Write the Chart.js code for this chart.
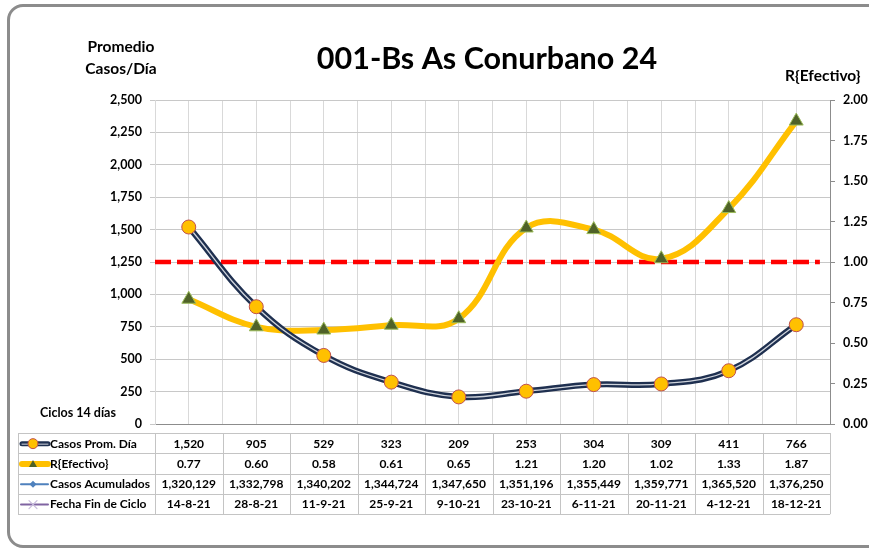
<!DOCTYPE html>
<html>
<head>
<meta charset="utf-8">
<script src="https://cdn.jsdelivr.net/npm/chart.js@4/dist/chart.umd.min.js"></script>
<style>
  html, body { margin:0; padding:0; background:#fff; }
  #wrap { position:relative; width:869px; height:550px; overflow:hidden; }
  #marco { position:absolute; left:7px; top:4px; width:890px; height:538px;
           border:3px solid #8c8c8c; border-radius:16px; pointer-events:none; }
</style>
</head>
<body>
<div id="wrap">
  <canvas id="grafico" width="869" height="550"></canvas>
  <div id="marco"></div>
</div>
<script>
//----- datos del grafico -----//
const titulo       = '001-Bs As Conurbano 24';
const ciclos       = ['1','2','3','4','5','6','7','8','9','10'];
const casosProm    = [1520, 905, 529, 323, 209, 253, 304, 309, 411, 766];
const rEfectivo    = [0.77, 0.60, 0.58, 0.61, 0.65, 1.21, 1.20, 1.02, 1.33, 1.87];
const casosAcum    = [1320129, 1332798, 1340202, 1344724, 1347650, 1351196, 1355449, 1359771, 1365520, 1376250];
const fechaFin     = ['14-8-21','28-8-21','11-9-21','25-9-21','9-10-21','23-10-21','6-11-21','20-11-21','4-12-21','18-12-21'];
const rUmbral      = 1.0;
const nombresSerie = ['Casos Prom. Día', 'R{Efectivo}', 'Casos Acumulados', 'Fecha Fin de Ciclo'];

const fuente = 'Lato, "Open Sans", sans-serif';

//----- formato de numeros -----//
function miles(v){ return Number(v).toLocaleString('en-US'); }

//----- textos y tabla de datos (dibujados debajo del grafico) -----//
const tablaPlugin = {
  id: 'tablaDatos',
  afterDraw(chart){
    const ctx = chart.ctx;
    const xs  = chart.scales.x;
    const area = chart.chartArea;
    const colW = (area.right - area.left) / ciclos.length;
    const top  = area.bottom + 9;
    const rowH = 20.3;
    const left = 18;
    ctx.save();

    // titulos
    ctx.fillStyle = '#000';
    ctx.textBaseline = 'middle';
    ctx.textAlign = 'center';
    ctx.font = 'bold 30.5px ' + fuente;
    ctx.fillText(titulo, 487, 59);
    ctx.font = 'bold 15.5px ' + fuente;
    ctx.fillText('Promedio', 121, 47);
    ctx.fillText('Casos/Día', 121, 69);
    ctx.textAlign = 'left';
    ctx.fillText('R{Efectivo}', 785, 76);
    ctx.font = 'bold 12.5px ' + fuente;
    ctx.fillText('Ciclos 14 días', 40, 413);

    // lineas de la tabla
    ctx.strokeStyle = '#c4c4c4';
    ctx.lineWidth = 1;
    const bottom = top + rowH * 4;
    for(let r=0;r<=4;r++){
      const y = Math.round(top + r*rowH) + 0.5;
      ctx.beginPath(); ctx.moveTo(left, y); ctx.lineTo(area.right, y); ctx.stroke();
    }
    ctx.beginPath(); ctx.moveTo(left+0.5, top); ctx.lineTo(left+0.5, bottom); ctx.stroke();
    for(let i=0;i<=ciclos.length;i++){
      const x = Math.round(area.left + i*colW) + 0.5;
      ctx.beginPath(); ctx.moveTo(x, top); ctx.lineTo(x, bottom); ctx.stroke();
    }

    // filas
    const filas = [
      casosProm.map(miles),
      rEfectivo.map(v => v.toFixed(2)),
      casosAcum.map(miles),
      fechaFin
    ];
    ctx.font = 'bold 12px ' + fuente;
    ctx.fillStyle = '#000';
    for(let r=0;r<4;r++){
      const yc = top + r*rowH + rowH/2 + 0.5;
      ctx.textAlign = 'center';
      for(let i=0;i<ciclos.length;i++){
        ctx.fillText(filas[r][i], xs.getPixelForValue(i), yc);
      }
      ctx.textAlign = 'left';
      ctx.fillText(nombresSerie[r], 50, yc);
      dibujarClave(ctx, r, 20, 48, yc);
    }
    ctx.restore();
  }
};

//-- pequeñas claves de la leyenda dentro de la tabla --//
function dibujarClave(ctx, r, x0, x1, y){
  const xm = (x0 + x1) / 2 - 1;
  ctx.save();
  ctx.lineCap = 'round';
  if(r==0){
    ctx.strokeStyle = '#1f3050'; ctx.lineWidth = 5;
    ctx.beginPath(); ctx.moveTo(x0+2, y); ctx.lineTo(x1, y); ctx.stroke();
    ctx.strokeStyle = '#d2d6de'; ctx.lineWidth = 1;
    ctx.beginPath(); ctx.moveTo(x0+2, y+0.5); ctx.lineTo(x1, y+0.5); ctx.stroke();
    ctx.fillStyle = '#ffc000'; ctx.strokeStyle = '#c0504d';
    ctx.beginPath(); ctx.arc(xm, y, 5, 0, Math.PI*2); ctx.fill(); ctx.stroke();
  }
  else if(r==1){
    ctx.strokeStyle = '#ffc000'; ctx.lineWidth = 6;
    ctx.beginPath(); ctx.moveTo(x0+2, y); ctx.lineTo(x1, y); ctx.stroke();
    ctx.fillStyle = '#4f6228';
    ctx.beginPath(); ctx.moveTo(xm, y-4); ctx.lineTo(xm+4, y+3); ctx.lineTo(xm-4, y+3); ctx.closePath(); ctx.fill();
  }
  else if(r==2){
    ctx.strokeStyle = '#4f81bd'; ctx.lineWidth = 2;
    ctx.beginPath(); ctx.moveTo(x0+1, y); ctx.lineTo(x1, y); ctx.stroke();
    ctx.fillStyle = '#4f81bd';
    ctx.beginPath(); ctx.moveTo(xm, y-3.5); ctx.lineTo(xm+3.5, y); ctx.lineTo(xm, y+3.5); ctx.lineTo(xm-3.5, y); ctx.closePath(); ctx.fill();
  }
  else{
    ctx.strokeStyle = '#8064a2'; ctx.lineWidth = 2;
    ctx.beginPath(); ctx.moveTo(x0+1, y); ctx.lineTo(x1, y); ctx.stroke();
    ctx.strokeStyle = '#c8bcdc'; ctx.lineWidth = 1.2;
    ctx.beginPath(); ctx.moveTo(xm-4, y-4); ctx.lineTo(xm+4, y+4); ctx.moveTo(xm+4, y-4); ctx.lineTo(xm-4, y+4); ctx.stroke();
  }
  ctx.restore();
}

//----- crear grafico -----//
const canvas = document.getElementById('grafico');
new Chart(canvas, {
  type: 'line',
  data: {
    labels: ciclos,
    datasets: [
      { // linea de referencia R = 1
        label: 'R = 1', data: [{x:0, y:rUmbral}, {x:9.85, y:rUmbral}],
        xAxisID: 'x2', yAxisID: 'y1', order: 10,
        borderColor: '#ff0000', borderWidth: 4.5, borderDash: [16, 6],
        pointRadius: 0, tension: 0
      },
      {
        label: nombresSerie[1], data: rEfectivo, xAxisID: 'x', yAxisID: 'y1', order: 5,
        borderColor: '#ffc000', borderWidth: 6, tension: 0.4,
        pointStyle: 'triangle', pointRadius: 8, pointBackgroundColor: '#4f6228',
        pointBorderColor: '#9bbb59', pointBorderWidth: 1
      },
      { // linea doble: trazo oscuro
        label: nombresSerie[0], data: casosProm, xAxisID: 'x', yAxisID: 'y', order: 3,
        borderColor: '#1f3050', borderWidth: 6, tension: 0.4, pointRadius: 0
      },
      { // linea doble: trazo claro interior
        label: '', data: casosProm, xAxisID: 'x', yAxisID: 'y', order: 2,
        borderColor: '#cfd4dc', borderWidth: 1.3, tension: 0.4, pointRadius: 0
      },
      { // marcadores
        label: '', data: casosProm, xAxisID: 'x', yAxisID: 'y', order: 1, showLine: false,
        pointStyle: 'circle', pointRadius: 7, pointBackgroundColor: '#ffc000',
        pointBorderColor: '#c0504d', pointBorderWidth: 1
      }
    ]
  },
  options: {
    responsive: false,
    devicePixelRatio: 1,
    animation: false,
    layout: { padding: { left: 0, right: 0, top: 100, bottom: 126 } },
    plugins: { legend: { display: false }, title: { display: false }, tooltip: { enabled: false } },
    scales: {
      x: {
        type: 'category', offset: true,
        grid: { display: false }, ticks: { display: false }, border: { display: false },
        afterFit: s => { s.height = 0; }
      },
      x2: {
        type: 'linear', min: 0, max: 10, position: 'bottom',
        ticks: { display: false, stepSize: 0.5 },
        grid: { color: '#d9d9d9', drawTicks: false },
        border: { color: '#8c8c8c', width: 1 },
        afterFit: s => { s.height = 0; }
      },
      y: {
        position: 'left', min: 0, max: 2500,
        ticks: { stepSize: 250, padding: 8, color: '#000', font: { family: fuente, size: 12.5, weight: 'bold' },
                 callback: v => miles(v) },
        grid: { color: '#c8c8c8', tickLength: 5 },
        border: { color: '#d9d9d9' },
        afterFit: s => { s.width = 155; }
      },
      y1: {
        position: 'right', min: 0, max: 2,
        ticks: { stepSize: 0.25, padding: 8, color: '#000', font: { family: fuente, size: 12.5, weight: 'bold' },
                 callback: v => Number(v).toFixed(2) },
        grid: { drawOnChartArea: false, color: '#8c8c8c', tickLength: 5 },
        border: { color: '#8c8c8c' },
        afterFit: s => { s.width = 39; }
      }
    }
  },
  plugins: [tablaPlugin]
});
</script>
</body>
</html>
